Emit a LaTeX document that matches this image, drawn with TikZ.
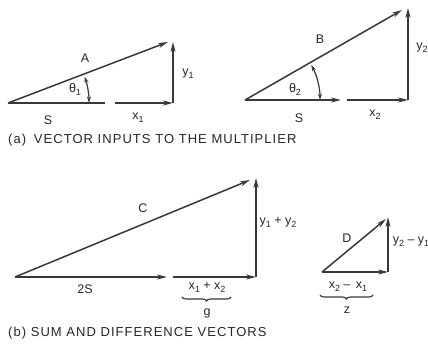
\documentclass[tikz,border=0pt]{standalone}
\usepackage{fontspec}
\setmainfont{Liberation Sans}
\newfontfamily\capfont[LetterSpace=8]{Liberation Sans}
\usetikzlibrary{arrows.meta,decorations.pathreplacing}
\newcommand{\lowsub}[1]{\raisebox{-0.45ex}{\fontsize{9}{9}\selectfont #1}}
\begin{document}
\begin{tikzpicture}[x=1pt,y=-1pt,
  vec/.style={draw=black!78,line width=1.5pt,-{Stealth[length=10pt,width=5pt]}},
  plain/.style={draw=black!78,line width=1.5pt},
  ang/.style={draw=black!78,line width=1.2pt,{Stealth[length=6.5pt,width=4pt]}-{Stealth[length=6.5pt,width=4pt]}},
  lbl/.style={text=black!85,font=\fontsize{12.5}{12.5}\selectfont,inner sep=0pt},
  captxt/.style={text=black!85,font=\capfont\fontsize{13}{13}\selectfont,inner sep=0pt,anchor=west},
  brc/.style={draw=black!78,line width=1.1pt,decorate,decoration={brace,amplitude=4pt}}]
\useasboundingbox (0,0) rectangle (428,344);
% ---- (a) left
\coordinate (O1) at (8,103);
\coordinate (A1) at (168,42);
\coordinate (S1) at (105,103);
\coordinate (X1a) at (115,103);
\coordinate (X1b) at (173,103);
\coordinate (Y1) at (173,42);
\draw[vec] (O1) -- (A1);
\draw[plain] (O1) -- (S1);
\draw[vec] (X1a) -- (X1b);
\draw[vec] (X1b) -- (Y1);
\draw[ang] (O1) ++(0:81) arc (0:-19:81);
\node[lbl] (lA) at (85,58) {A};
\node[lbl] (lt1) at (75,89) {θ\lowsub{1}};
\node[lbl] (ly1) at (188,74) {y\lowsub{1}};
\node[lbl] (lS1) at (48,120) {S};
\node[lbl] (lx1) at (138,118) {x\lowsub{1}};
% ---- (a) right
\coordinate (O2) at (245,100);
\coordinate (B2) at (402,10);
\coordinate (S2) at (341,100);
\coordinate (X2a) at (347,100);
\coordinate (X2b) at (408,100);
\coordinate (Y2) at (408,8);
\draw[vec] (O2) -- (B2);
\draw[vec] (O2) -- (S2);
\draw[vec] (X2a) -- (X2b);
\draw[vec] (X2b) -- (Y2);
\draw[ang] (O2) ++(0:75) arc (0:-28:75);
\node[lbl] (lB) at (320,39) {B};
\node[lbl] (lt2) at (295,89) {θ\lowsub{2}};
\node[lbl] (ly2) at (422,48) {y\lowsub{2}};
\node[lbl] (lS2) at (299,118) {S};
\node[lbl] (lx2) at (375,115) {x\lowsub{2}};
\node[captxt] (capa) at (8,140) {(a)\hspace{0.6em}VECTOR INPUTS TO THE MULTIPLIER};
% ---- (b) sum
\coordinate (O3) at (15,277);
\coordinate (C3) at (250,180);
\coordinate (S3) at (167,277);
\coordinate (X3a) at (173,277);
\coordinate (X3b) at (256,277);
\coordinate (Y3) at (256,178);
\draw[vec] (O3) -- (C3);
\draw[vec] (O3) -- (S3);
\draw[vec] (X3a) -- (X3b);
\draw[vec] (X3b) -- (Y3);
\node[lbl] (lC) at (143,208) {C};
\node[lbl] (ly12) at (278,222) {y\lowsub{1} + y\lowsub{2}};
\node[lbl] (l2S) at (85,289) {2S};
\node[lbl] (lx12) at (207,287) {x\lowsub{1} + x\lowsub{2}};
\coordinate (g1) at (231,297);
\coordinate (g2) at (182,297);
\draw[brc] (g1) -- (g2);
\node[lbl] (lg) at (207,313) {g};
% ---- difference
\coordinate (O4) at (322,272);
\coordinate (D4) at (386,219);
\coordinate (X4b) at (388,272);
\coordinate (Y4) at (388,217);
\draw[vec] (O4) -- (D4);
\draw[vec] (O4) -- (X4b);
\draw[vec] (X4b) -- (Y4);
\node[lbl] (lD) at (347,238) {D};
\node[lbl] (ly21) at (411,242) {y\lowsub{2} – y\lowsub{1}};
\node[lbl] (lx21) at (348,287) {x\lowsub{2} –\, x\lowsub{1}};
\coordinate (z1) at (373,295);
\coordinate (z2) at (320,295);
\draw[brc] (z1) -- (z2);
\node[lbl] (lz) at (347,310) {z};
\node[captxt] (capb) at (8,333) {(b) SUM AND DIFFERENCE VECTORS};
\end{tikzpicture}
\end{document}
